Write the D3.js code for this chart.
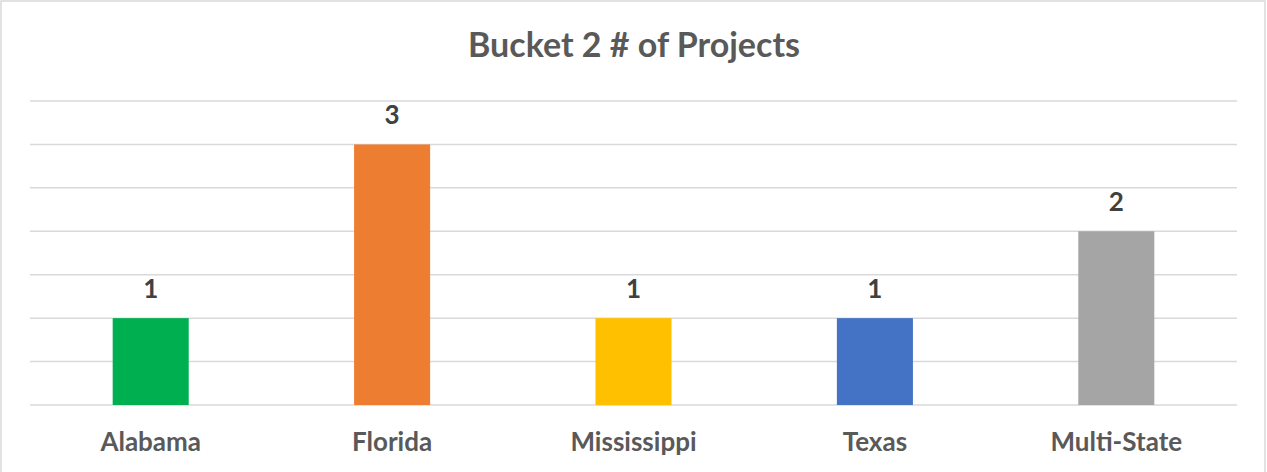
<!DOCTYPE html>
<meta charset="utf-8">
<script src="https://d3js.org/d3.v7.min.js"></script>
<style>
  body { margin: 0; background: #fff; }
  text { font-family: Lato, "Open Sans", sans-serif; font-weight: bold; }
</style>
<body>
<div id="chart"></div>
<script>

// chart data
var categories = ["Alabama", "Florida", "Mississippi", "Texas", "Multi-State"];
var projects = [1, 3, 1, 1, 2];
var barColors = ["#00B050", "#ED7D31", "#FFC000", "#4472C4", "#A5A5A5"];
var gridTicks = [0, 0.5, 1, 1.5, 2, 2.5, 3, 3.5];

var width = 1267, height = 472;

var svg = d3.select("#chart")
  .append("svg")
    .attr("width", width)
    .attr("height", height);

// outer border
svg.append("rect")
  .attr("x", 1).attr("y", 1)
  .attr("width", 1264).attr("height", 480)
  .attr("fill", "white")
  .attr("stroke", "#D9D9D9")
  .attr("stroke-width", 1.5);

var x = d3.scaleBand()
  .domain(categories)
  .range([30, 1237])
  .paddingInner(0.685)
  .paddingOuter(0.3425);

var y = d3.scaleLinear()
  .domain([0, 3.5])
  .range([405, 101]);

// gridlines
svg.append("g")
  .selectAll("line")
  .data(gridTicks)
  .enter()
  .append("line")
    .attr("x1", 30)
    .attr("x2", 1237)
    .attr("y1", function(d) { return y(d); })
    .attr("y2", function(d) { return y(d); })
    .attr("stroke", "#D9D9D9")
    .attr("stroke-width", 1.5);

// bars
svg.append("g")
  .selectAll("rect")
  .data(projects)
  .enter()
  .append("rect")
    .attr("x", function(d, i) { return x(categories[i]); })
    .attr("y", function(d) { return y(d); })
    .attr("width", x.bandwidth())
    .attr("height", function(d) { return y(0) - y(d); })
    .attr("fill", function(d, i) { return barColors[i]; });

// value labels
svg.append("g")
  .selectAll("text")
  .data(projects)
  .enter()
  .append("text")
    .attr("x", function(d, i) { return x(categories[i]) + x.bandwidth() / 2; })
    .attr("y", function(d) { return y(d) - 20; })
    .attr("text-anchor", "middle")
    .attr("font-size", "26px")
    .attr("fill", "#404040")
    .text(function(d) { return d; });

// category axis labels
svg.append("g")
  .selectAll("text")
  .data(categories)
  .enter()
  .append("text")
    .attr("x", function(d) { return x(d) + x.bandwidth() / 2; })
    .attr("y", 451)
    .attr("text-anchor", "middle")
    .attr("font-size", "26px")
    .attr("fill", "#595959")
    .text(function(d) { return d; });

// title
svg.append("text")
  .attr("x", 634)
  .attr("y", 57)
  .attr("text-anchor", "middle")
  .attr("font-size", "34px")
  .attr("fill", "#595959")
  .text("Bucket 2 # of Projects");

</script>
</body>
